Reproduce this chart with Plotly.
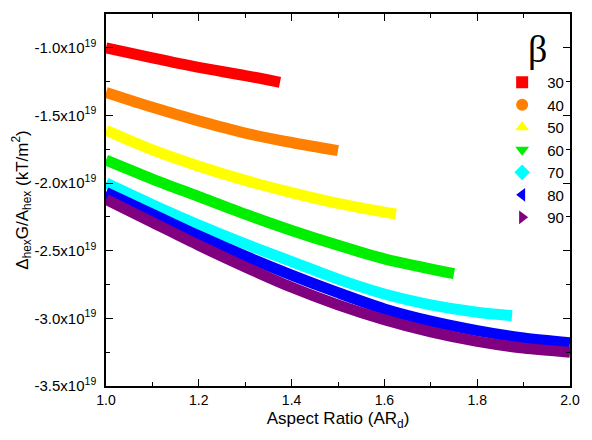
import plotly.graph_objects as go

# ---- data (y in units of 1e19 kT/m^2) ----
betas = ["30", "40", "50", "60", "70", "80", "90"]
colors = ["#FF0000", "#FF8000", "#FFFF00", "#00EE00", "#00FFFF", "#0000FF", "#800080"]
symbols = ["square", "circle", "triangle-up", "triangle-down", "diamond", "triangle-left", "triangle-right"]

x30 = [1.0, 1.1, 1.2, 1.3, 1.375]
y30 = [-1.00, -1.075, -1.145, -1.205, -1.255]
x40 = [1.0, 1.1, 1.2, 1.3, 1.4, 1.5]
y40 = [-1.33, -1.44, -1.54, -1.63, -1.70, -1.76]
x50 = [1.0, 1.1, 1.2, 1.3, 1.4, 1.5, 1.625]
y50 = [-1.61, -1.755, -1.875, -1.98, -2.07, -2.15, -2.23]
x60 = [1.0, 1.1, 1.2, 1.3, 1.4, 1.5, 1.6, 1.75]
y60 = [-1.83, -1.97, -2.10, -2.23, -2.35, -2.46, -2.56, -2.67]
x70 = [1.0, 1.1, 1.2, 1.3, 1.4, 1.5, 1.6, 1.7, 1.8, 1.875]
y70 = [-2.00, -2.16, -2.31, -2.45, -2.58, -2.71, -2.82, -2.90, -2.955, -2.98]
x80 = [1.0, 1.1, 1.2, 1.3, 1.4, 1.5, 1.6, 1.7, 1.8, 1.9, 2.0]
y80 = [-2.07, -2.23, -2.39, -2.54, -2.68, -2.81, -2.93, -3.02, -3.09, -3.145, -3.18]
x90 = [1.0, 1.1, 1.2, 1.3, 1.4, 1.5, 1.6, 1.7, 1.8, 1.9, 2.0]
y90 = [-2.12, -2.29, -2.46, -2.62, -2.77, -2.90, -3.01, -3.10, -3.17, -3.22, -3.25]

xs = [x30, x40, x50, x60, x70, x80, x90]
ys = [y30, y40, y50, y60, y70, y80, y90]
SCALE = 1e19

ytick_vals = [-3.5, -3.0, -2.5, -2.0, -1.5, -1.0]
ytick_text = ["-3.5x10<sup>19</sup>", "-3.0x10<sup>19</sup>", "-2.5x10<sup>19</sup>",
              "-2.0x10<sup>19</sup>", "-1.5x10<sup>19</sup>", "-1.0x10<sup>19</sup>"]
xtick_vals = [1.0, 1.2, 1.4, 1.6, 1.8, 2.0]
xtick_text = ["1.0", "1.2", "1.4", "1.6", "1.8", "2.0"]

FONT = "Arial, Liberation Sans, sans-serif"

fig = go.Figure()
for b, c, s, x, y in zip(betas, colors, symbols, xs, ys):
    fig.add_trace(go.Scatter(
        x=x, y=[v * SCALE for v in y], mode="lines",
        line=dict(color=c, width=11, shape="spline", smoothing=0.8),
        showlegend=False, hoverinfo="skip"))
for b, c, s in zip(betas, colors, symbols):
    fig.add_trace(go.Scatter(
        x=[None], y=[None], mode="markers", name=b,
        marker=dict(color=c, symbol=s, size=11, line=dict(width=0))))

axis_common = dict(showline=True, linecolor="black", linewidth=1.5, mirror="ticks",
                   ticks="inside", tickcolor="black", tickwidth=1.2, showgrid=False,
                   zeroline=False)

fig.update_layout(
    width=592, height=440,
    margin=dict(l=106, r=15, t=12, b=54),
    paper_bgcolor="white", plot_bgcolor="white",
    font=dict(family=FONT, color="black"),
    xaxis=dict(range=[1.0, 2.0], tickvals=xtick_vals, ticktext=xtick_text, ticklen=7,
               tickfont=dict(family=FONT, size=14, color="black"),
               minor=dict(dtick=0.1, tick0=1.0, ticklen=4, ticks="inside", tickcolor="black"),
               title=dict(text="Aspect Ratio (AR<sub>d</sub>)", font=dict(family=FONT, size=17), standoff=6),
               **axis_common),
    yaxis=dict(range=[-3.5 * SCALE, -0.75 * SCALE], tickvals=[v * SCALE for v in ytick_vals],
               ticktext=ytick_text, ticklen=7, ticklabelstandoff=5,
               tickfont=dict(family=FONT, size=15, color="black"),
               minor=dict(dtick=0.25 * SCALE, tick0=-1.0 * SCALE, ticklen=4, ticks="inside", tickcolor="black"),
               title=dict(text="Δ<sub>hex</sub>G/A<sub>hex</sub> (kT/m<sup>2</sup>)", font=dict(family=FONT, size=17), standoff=2),
               **axis_common),
    legend=dict(x=0.843, y=0.86, xanchor="left", yanchor="top", bgcolor="rgba(0,0,0,0)",
                font=dict(family=FONT, size=15, color="black"), itemsizing="constant",
                itemwidth=40, tracegroupgap=0),
    annotations=[dict(text="β", x=0.911, y=0.909, xref="paper", yref="paper",
                      xshift=20, yshift=22,
                      showarrow=False, font=dict(family="Liberation Serif, DejaVu Serif, serif", size=38, color="black"))],
)

fig.write_html("out.html")
